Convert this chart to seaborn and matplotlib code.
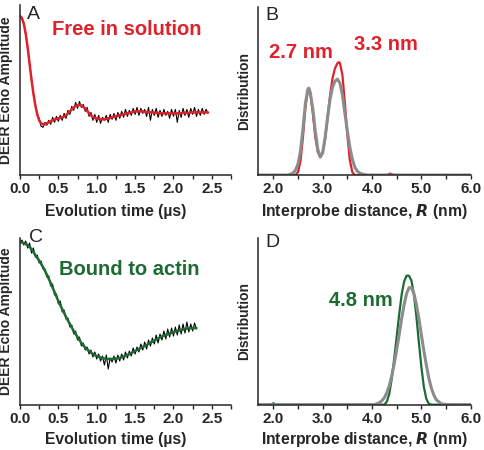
import numpy as np
import pandas as pd
import seaborn as sns
import matplotlib.pyplot as plt
from matplotlib.ticker import MultipleLocator

RED = "#e0202a"
GREEN = "#1b6b32"
GRAY = "#8c8c8c"

# panel A: DEER trace, free in solution (time step 0.025 us)
fit_a = [160, 158, 152, 142, 128, 112, 96, 82, 70, 61, 55, 52, 51, 51, 52, 53, 54, 55, 56, 56.5,
         57, 57.5, 58, 59, 60, 62, 64, 66, 68, 69.5, 70, 70.5, 70, 68.5, 67, 64.5, 62, 60, 58.5, 57.5,
         57, 56.5, 56, 56, 56, 56.5, 57, 57.5, 58, 58.5, 59, 59.5, 60, 60.5, 61, 61.5, 62, 62.5, 63, 63.5,
         64, 64, 64, 64, 64, 63.5, 63.5, 63, 63, 63, 62.5, 62.5, 62.5, 62, 62, 62, 62, 62, 62, 62,
         62, 62, 62, 62, 62, 62.5, 62.5, 62.5, 62.5, 63, 63, 63, 63, 63, 63, 63, 63, 63, 63]
data_a = [160, 157, 153, 141, 129, 111, 97, 81, 71, 60, 57, 49, 48, 53, 50, 55, 51, 58, 53, 59,
          54, 60, 55, 62, 57, 65, 61, 69, 65, 73, 67, 74, 68, 71, 64, 68, 59, 63, 55, 61,
          53, 60, 52, 58, 55, 60, 53, 61, 56, 62, 55, 63, 57, 64, 58, 66, 59, 65, 60, 67,
          61, 68, 60, 67, 62, 66, 59, 68, 55, 66, 60, 67, 58, 65, 59, 66, 60, 64, 57, 66,
          59, 66, 53, 65, 58, 67, 60, 66, 58, 67, 61, 68, 59, 66, 60, 67, 61, 66, 62]

# panel C: DEER trace, bound to actin (fit step 0.05 us, data step 0.025 us)
fit_c = [163, 162, 160, 156, 150, 144.5, 138, 130.5, 122, 113, 104, 96, 88, 81, 74, 68, 62, 57.5,
         54, 51, 49, 47.5, 46.5, 46, 46, 46.5, 47, 48.5, 50, 52, 54, 56, 58, 60, 62.5, 64.5, 66.5,
         68.5, 70, 71.5, 73, 74, 75, 76, 76.5, 77, 77]
data_c = [163, 165, 160, 164, 157, 162, 152, 157, 148, 150,
          142, 144, 136, 136, 128, 129, 119, 121, 110, 111,
          101, 104, 93, 95, 86, 87, 78, 80, 71, 74,
          65, 68, 59, 62, 55, 58, 51, 55, 48, 53,
          46, 51, 44, 49, 40, 50, 36, 47, 43, 49,
          42, 50, 44, 51, 45, 53, 47, 54, 49, 57,
          51, 58, 53, 61, 55, 63, 56, 65, 59, 67,
          61, 70, 62, 71, 65, 74, 66, 76, 68, 77,
          69, 78, 70, 80, 71, 81, 72, 83, 73, 81,
          74, 82, 76]

# panel B: distance distributions
r_b_red = [1.70, 2.45, 2.50, 2.55, 2.60, 2.65, 2.70, 2.72, 2.75, 2.80, 2.85, 2.90, 2.95, 3.00, 3.05,
           3.10, 3.15, 3.20, 3.25, 3.30, 3.33, 3.35, 3.40, 3.45, 3.50, 3.55, 3.60, 3.65, 4.30, 4.37,
           4.44, 6.00]
p_b_red = [0, 0, 3, 14, 38, 68, 85, 87, 82, 62, 38, 23, 18, 23, 36, 58, 80, 97, 107, 112, 113,
           112, 100, 72, 40, 15, 3, 0, 0, 1.5, 0, 0]
r_b_gray = [1.70, 2.30, 2.35, 2.40, 2.45, 2.50, 2.55, 2.60, 2.65, 2.70, 2.72, 2.75, 2.80, 2.85, 2.90,
            2.95, 3.00, 3.05, 3.10, 3.15, 3.20, 3.25, 3.30, 3.35, 3.40, 3.45, 3.50, 3.55, 3.60,
            3.65, 3.70, 3.75, 3.80, 3.90, 6.00]
p_b_gray = [0, 0, 1, 2, 5, 11, 24, 46, 72, 86, 87, 82, 66, 44, 26, 18, 22, 38, 58, 76, 88, 94, 96,
            92, 80, 62, 44, 28, 16, 8, 4, 2, 1, 0, 0]

# panel D: distance distributions
r_d_green = [1.70, 1.95, 2.00, 2.05, 4.25, 4.30, 4.35, 4.40, 4.45, 4.50, 4.55, 4.60, 4.65, 4.70, 4.75,
             4.80, 4.85, 4.90, 4.95, 5.00, 5.05, 5.10, 5.15, 5.20, 6.00]
p_d_green = [0, 0, 1.5, 0, 0, 3, 11, 26, 46, 68, 90, 110, 123, 129, 129, 124, 110, 88, 62, 38, 18,
             6, 1, 0, 0]
r_d_gray = [1.70, 4.05, 4.10, 4.15, 4.20, 4.25, 4.30, 4.35, 4.40, 4.45, 4.50, 4.55, 4.60, 4.65, 4.70,
            4.75, 4.80, 4.85, 4.90, 4.95, 5.00, 5.05, 5.10, 5.15, 5.20, 5.25, 5.30, 5.35, 5.40,
            5.45, 5.55, 6.00]
p_d_gray = [0, 0, 1, 2, 4, 7, 12, 19, 29, 41, 55, 70, 86, 100, 111, 117, 117, 111, 100, 86, 70,
            54, 40, 27, 17, 10, 5, 3, 1, 0.5, 0, 0]

t_a = np.arange(len(fit_a)) * 0.025
t_fit_c = np.arange(len(fit_c)) * 0.05
t_data_c = np.arange(len(data_c)) * 0.025

sns.set_style("ticks")
plt.rcParams["font.family"] = ["Liberation Sans", "DejaVu Sans"]
plt.rcParams["axes.linewidth"] = 1.1

fig = plt.figure(figsize=(4.84, 4.5), dpi=100)
ax_a = fig.add_axes([0.0413, 0.611, 0.436, 0.378])
ax_b = fig.add_axes([0.5337, 0.611, 0.4388, 0.373])
ax_c = fig.add_axes([0.0413, 0.100, 0.436, 0.371])
ax_d = fig.add_axes([0.5337, 0.1007, 0.4388, 0.371])

tick_font = dict(fontsize=11, fontweight="bold")
xlab_font = dict(fontsize=11.3, fontweight="bold")
note_font = dict(fontsize=14.5, fontweight="bold")


def style_axes(ax, xlim, ylim, ticks, minor):
    sns.despine(ax=ax)
    ax.set_xlim(*xlim)
    ax.set_ylim(*ylim)
    ax.set_yticks([])
    ax.set_xticks(ticks)
    ax.xaxis.set_minor_locator(MultipleLocator(minor))
    ax.tick_params(axis="x", which="both", direction="out", length=3, width=1, pad=2)
    ax.set_xticklabels([f"{v:.1f}" for v in ticks], **tick_font)


time_ticks = [0.0, 0.5, 1.0, 1.5, 2.0, 2.5]
dist_ticks = [2.0, 3.0, 4.0, 5.0, 6.0]

# A
sns.lineplot(x=t_a, y=data_a, ax=ax_a, color="black", lw=0.8)
sns.lineplot(x=t_a, y=fit_a, ax=ax_a, color=RED, lw=1.8)
style_axes(ax_a, (0, 2.75), (0, 171), time_ticks, 0.25)
ax_a.set_xlabel("Evolution time (\u00b5s)", va="top", **xlab_font)
ax_a.xaxis.set_label_coords(0.453, -0.17)
ax_a.set_ylabel("DEER Echo Amplitude", labelpad=5, fontsize=10, fontweight="bold")
ax_a.text(0.09, 161.5, "A", fontsize=14, va="center", ha="left")
ax_a.text(0.42, 146, "Free in solution", color=RED, va="center", **note_font)

# B
sns.lineplot(x=r_b_red, y=p_b_red, ax=ax_b, color=RED, lw=1.6)
sns.lineplot(x=r_b_gray, y=p_b_gray, ax=ax_b, color=GRAY, lw=2.2)
style_axes(ax_b, (1.695, 6.0), (0, 168), dist_ticks, 0.5)
ax_b.set_xlabel("Interprobe distance, $\\boldsymbol{R}$ (nm)", va="top", **xlab_font)
ax_b.xaxis.set_label_coords(0.5, -0.16)
ax_b.set_ylabel("Distribution", labelpad=5, fontsize=10, fontweight="bold")
ax_b.text(1.83, 159.5, "B", fontsize=14, va="center", ha="left")
ax_b.text(2.55, 122.5, "2.7 nm", color=RED, ha="center", va="center", **note_font)
ax_b.text(4.28, 131, "3.3 nm", color=RED, ha="center", va="center", **note_font)

# C
sns.lineplot(x=t_data_c, y=data_c, ax=ax_c, color="black", lw=0.8)
sns.lineplot(x=t_fit_c, y=fit_c, ax=ax_c, color=GREEN, lw=1.8)
style_axes(ax_c, (0, 2.75), (0, 167), time_ticks, 0.25)
ax_c.set_xlabel("Evolution time (\u00b5s)", va="top", **xlab_font)
ax_c.xaxis.set_label_coords(0.453, -0.16)
ax_c.set_ylabel("DEER Echo Amplitude", labelpad=5, fontsize=10, fontweight="bold")
ax_c.text(0.117, 167.5, "C", fontsize=14, va="center", ha="left", clip_on=False)
ax_c.text(0.51, 135.5, "Bound to actin", color=GREEN, va="center", **note_font)

# D
sns.lineplot(x=r_d_green, y=p_d_green, ax=ax_d, color=GREEN, lw=1.6)
sns.lineplot(x=r_d_gray, y=p_d_gray, ax=ax_d, color=GRAY, lw=2.2)
style_axes(ax_d, (1.695, 6.0), (0, 167), dist_ticks, 0.5)
ax_d.set_xlabel("Interprobe distance, $\\boldsymbol{R}$ (nm)", va="top", **xlab_font)
ax_d.xaxis.set_label_coords(0.5, -0.15)
ax_d.set_ylabel("Distribution", labelpad=5, fontsize=10, fontweight="bold")
ax_d.text(1.83, 162.7, "D", fontsize=14, va="center", ha="left")
ax_d.text(3.77, 104.7, "4.8 nm", color=GREEN, ha="center", va="center", **note_font)

fig.savefig("out.png", dpi=100)
